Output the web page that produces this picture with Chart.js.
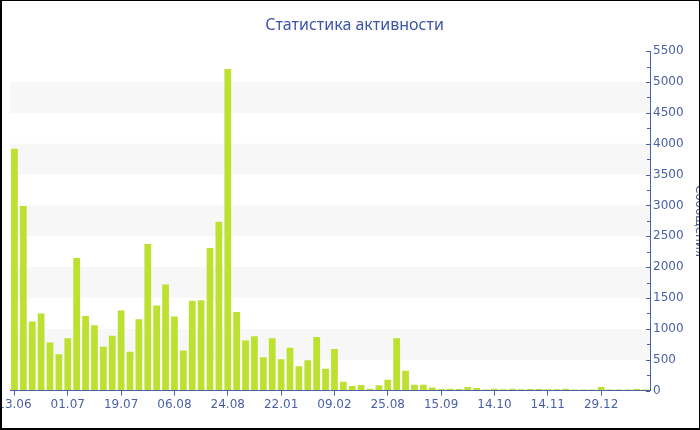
<!DOCTYPE html>
<html>
<head>
<meta charset="utf-8">
<script src="https://cdn.jsdelivr.net/npm/chart.js@4.4.1/dist/chart.umd.min.js"></script>
<style>
  html, body { margin: 0; padding: 0; background: #fff; }
  #wrap { width: 700px; height: 430px; box-sizing: border-box;
          border-style: solid; border-color: #000;
          border-width: 1px 1px 2px 2px; overflow: hidden; }
  canvas { display: block; }
</style>
</head>
<body>
<div id="wrap"><canvas id="c" width="697" height="427"></canvas></div>
<script>
// ---- data ----
const chartTitle = 'Статистика активности';
const yAxisTitle = 'Сообщения';
const tickLabels = ['13.06', '01.07', '19.07', '06.08', '24.08', '22.01',
                    '09.02', '25.08', '15.09', '14.10', '14.11', '29.12'];
const tickEvery = 6;
const messages = [
  3920, 2990, 1120, 1250, 780, 590, 850, 2150, 1210, 1060, 710, 890,
  1300, 630, 1155, 2375, 1380, 1720, 1200, 650, 1455, 1465, 2310, 2735,
  5210, 1275, 810, 880, 540, 850, 510, 695, 395, 490, 870, 355,
  675, 145, 75, 90, 30, 85, 175, 850, 320, 95, 95, 50,
  27, 32, 27, 60, 43, 16, 32, 22, 32, 22, 27, 27,
  22, 22, 32, 16, 16, 16, 59, 16, 16, 16, 27, 16
];
const yMax = 5500;
const yStep = 500;

// categories: one per bar, labelled every tickEvery bars
const categories = messages.map((_, i) =>
  i % tickEvery === 0 ? (tickLabels[i / tickEvery] || '') : '');

const BLUE = '#4a5fa6';
const FONT = 'DejaVu Sans, Verdana, sans-serif';

const bandsPlugin = {
  id: 'bands',
  beforeDatasetsDraw(chart) {
    const { ctx, chartArea, scales } = chart;
    const y = scales.y;
    ctx.save();
    ctx.fillStyle = '#f7f7f7';
    for (let v = yStep; v < yMax; v += 2 * yStep) {
      const top = y.getPixelForValue(v + yStep);
      const bot = y.getPixelForValue(v);
      ctx.fillRect(chartArea.left, top, chartArea.right - chartArea.left, bot - top);
    }
    ctx.restore();
  },
  afterDraw(chart) {
    const { ctx, scales } = chart;
    const y = scales.y;
    const x0 = y.left;
    ctx.save();
    ctx.strokeStyle = BLUE;
    ctx.lineWidth = 1;
    for (let v = 0; v <= yMax; v += yStep / 2) {
      const p = Math.round(y.getPixelForValue(v)) + 0.5;
      const len = (v % yStep === 0) ? 4 : 3;
      ctx.beginPath();
      ctx.moveTo(x0 - len, p);
      ctx.lineTo(x0, p);
      ctx.stroke();
    }
    ctx.restore();
  }
};

new Chart(document.getElementById('c'), {
  type: 'bar',
  data: {
    labels: categories,
    datasets: [{
      label: yAxisTitle,
      data: messages,
      backgroundColor: '#bce130',
      borderWidth: 0,
      barPercentage: 0.76,
      categoryPercentage: 1.0
    }]
  },
  options: {
    responsive: false,
    animation: false,
    layout: { padding: { left: 8, right: 0, top: 0, bottom: 14 } },
    plugins: {
      legend: { display: false },
      tooltip: { enabled: false },
      title: {
        display: true,
        text: chartTitle,
        color: '#3d55a6',
        font: { family: 'Noto Sans, DejaVu Sans, sans-serif', size: 16, weight: 'normal' },
        padding: { top: 15, bottom: 16 }
      }
    },
    scales: {
      x: {
        ticks: {
          autoSkip: false,
          maxRotation: 0,
          minRotation: 0,
          color: BLUE,
          font: { family: FONT, size: 12 },
          padding: 2,
          callback: (v, i) => categories[i]
        },
        grid: {
          display: true,
          drawOnChartArea: true,
          drawTicks: true,
          tickLength: 5,
          color: (c) => (c.index % 3 === 0 ? 'rgba(255,255,255,0.9)' : 'transparent'),
          tickColor: (c) => (c.index % tickEvery === 0 ? BLUE : 'transparent'),
          offset: false
        },
        border: { display: true, color: BLUE, width: 1 },
        afterFit(scale) { scale.paddingLeft = 0; scale.paddingRight = 0; }
      },
      y: {
        position: 'right',
        min: 0,
        max: yMax,
        ticks: {
          stepSize: yStep,
          color: BLUE,
          font: { family: FONT, size: 12 },
          padding: 3,
          callback: (v) => String(v)
        },
        grid: { display: true, drawOnChartArea: false, drawTicks: false },
        border: { display: true, color: BLUE, width: 1 },
        title: {
          display: true,
          text: yAxisTitle,
          color: BLUE,
          font: { family: FONT, size: 12 },
          padding: { top: -7, bottom: 0 }
        },
        afterFit(scale) { scale.width = 49; }
      }
    }
  },
  plugins: [bandsPlugin]
});
</script>
</body>
</html>
